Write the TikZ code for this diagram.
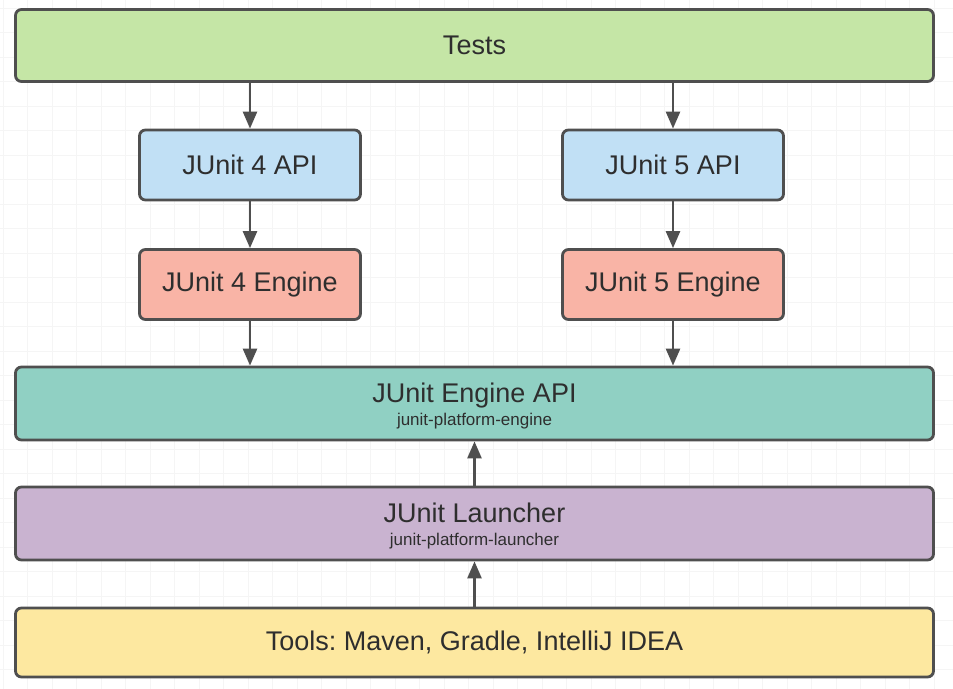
\documentclass[tikz,border=0pt]{standalone}
\usepackage{fontspec}
\setmainfont{Liberation Sans}
\frenchspacing
\usetikzlibrary{arrows.meta}
\definecolor{cgreen}{HTML}{C5E6A6}
\definecolor{cblue}{HTML}{C1E0F5}
\definecolor{csalmon}{HTML}{F9B4A6}
\definecolor{cteal}{HTML}{90D0C3}
\definecolor{cpurple}{HTML}{C9B3D0}
\definecolor{cyellow}{HTML}{FDE8A0}
\definecolor{cborder}{HTML}{4F4F4F}
\definecolor{ctext}{HTML}{2E2E2E}
\definecolor{cgrid}{HTML}{F5F5F5}
\tikzset{
  box/.style={draw=cborder, line width=2.8pt, rounded corners=6pt, inner sep=0pt, text=ctext, font=\fontsize{27}{30}\selectfont},
  widebox/.style={box, minimum width=918pt, minimum height=72pt},
  smallbox/.style={box, minimum width=221pt, minimum height=70pt},
  sub/.style={inner sep=0pt, anchor=base, text=ctext, font=\fontsize{17}{19}\selectfont},
  ttl/.style={inner sep=0pt, anchor=base, text=ctext, font=\fontsize{27}{30}\selectfont},
  arr/.style={draw=cborder, line width=2.6pt, -{Triangle[width=14pt,length=17pt]}}
}
\begin{document}
\begin{tikzpicture}[x=1pt,y=-1pt]
\fill[white] (0,0) rectangle (953,688);
\useasboundingbox (0,0) rectangle (953,688);
\draw[cgrid, line width=0.8pt, xstep=24.5pt, ystep=24.5pt, shift={(3pt,-8pt)}] (-3,-8) grid (953,700);
% boxes
\node[widebox, fill=cgreen] (tests) at (474.5,45.5) {Tests};
\node[smallbox, fill=cblue] (api4) at (250,165) {JUnit 4 API};
\node[smallbox, fill=cblue] (api5) at (673,165) {JUnit 5 API};
\node[smallbox, fill=csalmon] (eng4) at (250,284.5) {JUnit 4 Engine};
\node[smallbox, fill=csalmon] (eng5) at (673,284.5) {JUnit 5 Engine};
\node[widebox, fill=cteal, minimum height=73pt] (engapi) at (474.5,403.5) {};
\node[ttl] (engapit) at (474.5,402) {JUnit Engine API};
\node[sub] (engapis) at (474.5,425) {junit-platform-engine};
\node[widebox, fill=cpurple, minimum height=73pt] (launch) at (474.5,523.5) {};
\node[ttl] (launcht) at (474.5,522) {JUnit Launcher};
\node[sub] (launchs) at (474.5,545) {junit-platform-launcher};
\node[widebox, fill=cyellow, minimum height=69pt] (tools) at (474.5,642.5) {Tools: Maven, Gradle, IntelliJ IDEA};
% arrows
\draw[arr] (tests.south -| api4) -- (api4.north);
\draw[arr] (tests.south -| api5) -- (api5.north);
\draw[arr] (api4) -- (eng4);
\draw[arr] (api5) -- (eng5);
\draw[arr] (eng4.south) -- (engapi.north -| eng4);
\draw[arr] (eng5.south) -- (engapi.north -| eng5);
\draw[arr] (launch.north) -- (engapi.south);
\draw[arr] (tools.north) -- (launch.south);
\end{tikzpicture}
\end{document}
